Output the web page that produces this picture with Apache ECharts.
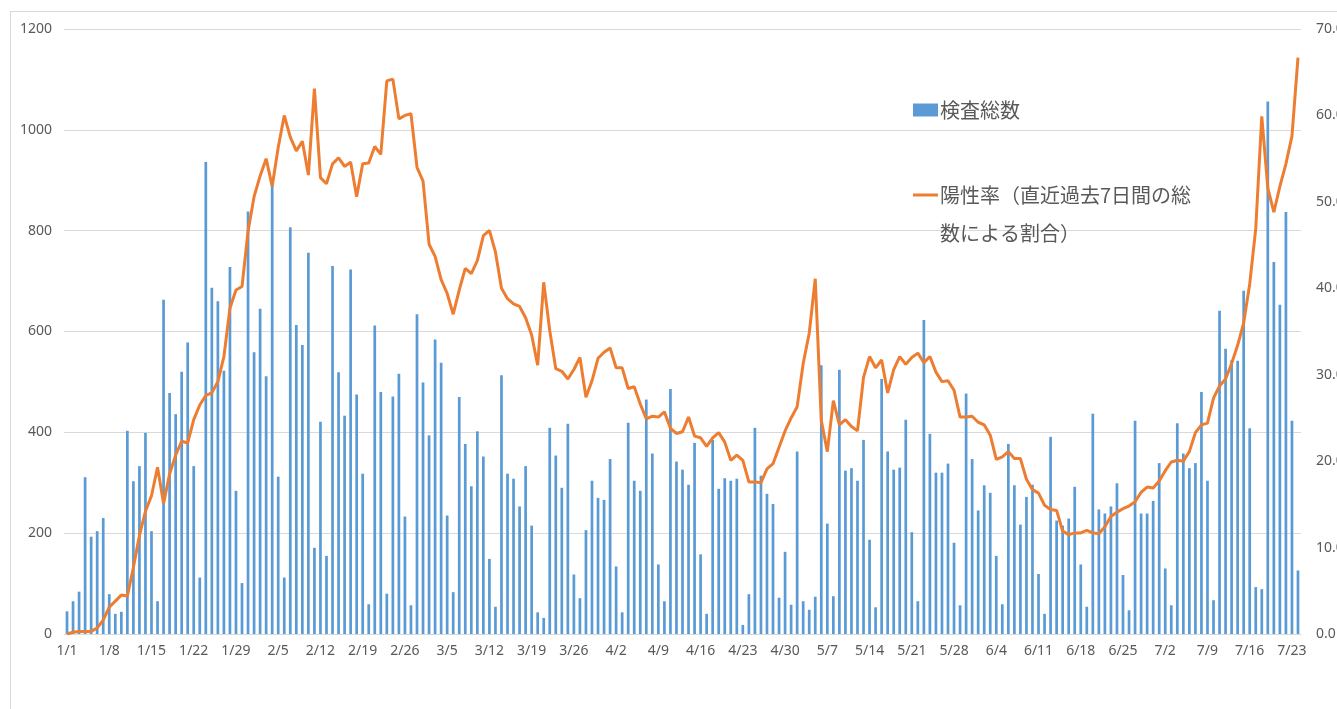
<!DOCTYPE html>
<html>
<head>
<meta charset="utf-8">
<script src="https://cdn.jsdelivr.net/npm/echarts@6/dist/echarts.min.js"></script>
<style>
html,body{margin:0;padding:0;background:#fff;overflow:hidden;width:1337px;height:709px;}
#frame{position:absolute;left:10px;top:11px;width:1327px;height:698px;border-left:1px solid #d9d9d9;border-top:1px solid #d9d9d9;box-sizing:border-box;}
#chart{position:absolute;left:0;top:0;width:1337px;height:709px;}
</style>
</head>
<body>
<div id="frame"></div>
<div id="chart"></div>
<script>
// Categories: daily dates from 1/1 to 7/24
const monthDays = [31, 28, 31, 30, 31, 30, 31];
const dayCount = 205;
const categories = [];
(function () {
  let m = 0, d = 1;
  for (let i = 0; i < dayCount; i++) {
    categories.push((m + 1) + '/' + d);
    d++;
    if (d > monthDays[m]) { d = 1; m++; }
  }
})();

// 検査総数 (tests per day)
const testTotals = [
  45,65,84,311,193,204,230,79,40,44,
  403,303,333,399,204,65,663,478,436,520,
  578,333,112,936,687,660,522,728,284,101,
  838,559,645,511,889,312,112,807,613,573,
  756,171,421,155,730,519,433,723,475,318,
  59,612,480,80,471,516,233,57,634,499,
  394,584,538,235,83,470,377,293,402,352,
  149,54,513,318,308,253,333,215,43,32,
  409,354,290,417,118,71,206,304,270,266,
  347,134,43,419,304,284,465,358,138,65,
  486,342,326,296,379,158,40,385,288,309,
  304,308,18,79,409,314,278,258,72,163,
  58,362,65,48,74,533,219,75,524,324,
  329,304,385,187,53,506,362,326,330,425,
  202,65,623,397,320,320,338,181,57,477,
  347,245,295,280,155,59,377,295,217,272,
  296,119,40,391,225,215,229,292,138,54,
  437,247,239,253,299,117,47,423,239,239,
  264,339,130,57,418,358,329,339,480,304,
  67,641,566,543,542,681,408,93,89,1056,
  738,653,837,423,126
];

// 陽性率（直近過去7日間の総数による割合）(%)
const positivityRate = [
  0.0,0.2,0.3,0.3,0.3,0.7,1.6,3.1,3.8,4.5,
  4.4,7.7,11.4,14.2,16.0,19.3,15.1,18.5,20.7,22.3,
  22.1,24.8,26.5,27.6,27.9,29.2,32.1,37.7,39.8,40.2,
  46.6,50.6,53.0,55.0,51.8,56.3,60.0,57.5,55.9,57.0,
  53.1,63.1,52.8,52.1,54.4,55.1,54.1,54.6,50.6,54.4,
  54.5,56.4,55.5,64.0,64.2,59.6,60.0,60.2,54.0,52.4,
  45.1,43.7,41.0,39.4,37.0,39.8,42.3,41.7,43.2,46.1,
  46.7,44.2,40.0,38.8,38.2,37.9,36.6,34.6,31.1,40.7,
  35.1,30.7,30.4,29.5,30.6,32.0,27.4,29.3,31.9,32.6,
  33.1,30.8,30.8,28.4,28.6,26.6,24.9,25.2,25.1,25.7,
  23.8,23.2,23.4,25.1,22.9,22.7,21.7,22.7,23.3,22.2,
  20.1,20.7,20.1,17.6,17.6,17.5,19.1,19.7,21.6,23.5,
  25.0,26.3,31.3,34.8,41.1,24.7,21.1,27.0,24.2,24.8,
  24.0,23.5,29.7,32.1,30.8,31.7,27.9,30.6,32.1,31.2,
  32.0,32.5,31.4,32.1,30.3,29.2,29.3,28.2,25.1,25.1,
  25.2,24.5,24.2,23.0,20.2,20.5,21.1,20.3,20.3,17.9,
  16.7,16.3,14.9,14.4,14.3,11.9,11.5,11.7,11.7,12.0,
  11.7,11.6,12.4,13.6,14.1,14.5,14.8,15.3,16.4,17.0,
  16.9,17.7,18.9,19.9,20.1,20.0,21.1,23.3,24.2,24.4,
  27.3,28.7,29.5,31.3,33.4,36.0,40.5,46.9,59.9,51.6,
  48.8,51.8,54.4,57.6,66.7
];

const seriesNames = ['検査総数', '陽性率（直近過去7日間の総数による割合）'];
const leftTicks = { min: 0, max: 1200, interval: 200 };
const rightTicks = { min: 0, max: 70, interval: 10 };

const chart = echarts.init(document.getElementById('chart'));
const labelFont = '"Noto Sans", "Liberation Sans", sans-serif';
const cjkFont = '"Noto Sans CJK JP", "Noto Sans", sans-serif';
chart.setOption({
  animation: false,
  backgroundColor: 'transparent',
  grid: { left: 64, right: 36, top: 29, bottom: 75, containLabel: false, outerBoundsMode: 'none' },
  legend: [
    {
      data: [seriesNames[0]],
      left: 908, top: 95,
      orient: 'vertical',
      itemWidth: 25, itemHeight: 13, itemGap: 0,
      icon: 'rect',
      textStyle: { fontFamily: cjkFont, fontSize: 20, color: '#595959', padding: [0, 0, 0, -3] }
    },
    {
      data: [seriesNames[1]],
      left: 908, top: 133,
      orient: 'vertical',
      itemWidth: 25, itemHeight: 3, itemGap: 0,
      icon: 'rect',
      formatter: function () { return '\n陽性率（直近過去7日間の総\n数による割合）'; },
      textStyle: { fontFamily: cjkFont, fontSize: 20, color: '#595959', lineHeight: 38, padding: [0, 0, 0, -3] }
    }
  ],
  xAxis: {
    type: 'category',
    data: categories,
    boundaryGap: true,
    axisLine: { lineStyle: { color: '#d9d9d9', width: 1 } },
    axisTick: { show: false },
    axisLabel: {
      interval: function (index) { return index % 7 === 0; },
      color: '#595959', fontSize: 14, fontFamily: labelFont, margin: 10
    },
    splitLine: { show: false }
  },
  yAxis: [
    {
      type: 'value', min: leftTicks.min, max: leftTicks.max, interval: leftTicks.interval,
      axisLine: { show: false }, axisTick: { show: false },
      axisLabel: {
        color: '#595959', fontSize: 14, fontFamily: labelFont, margin: 12,
        formatter: function (v) { return String(v); }
      },
      splitLine: { lineStyle: { color: '#d9d9d9', width: 1 } }
    },
    {
      type: 'value', min: rightTicks.min, max: rightTicks.max, interval: rightTicks.interval,
      position: 'right',
      axisLine: { show: false }, axisTick: { show: false },
      axisLabel: {
        color: '#595959', fontSize: 14, fontFamily: labelFont, margin: 15,
        formatter: function (v) { return v.toFixed(1); }
      },
      splitLine: { show: false }
    }
  ],
  series: [
    {
      name: seriesNames[0],
      type: 'bar',
      data: testTotals,
      barWidth: '45%',
      itemStyle: { color: '#5B9BD5' }
    },
    {
      name: seriesNames[1],
      type: 'line',
      yAxisIndex: 1,
      data: positivityRate,
      showSymbol: false,
      symbol: 'none',
      lineStyle: { color: '#ED7D31', width: 3 },
      itemStyle: { color: '#ED7D31' }
    }
  ]
});
</script>
</body>
</html>
